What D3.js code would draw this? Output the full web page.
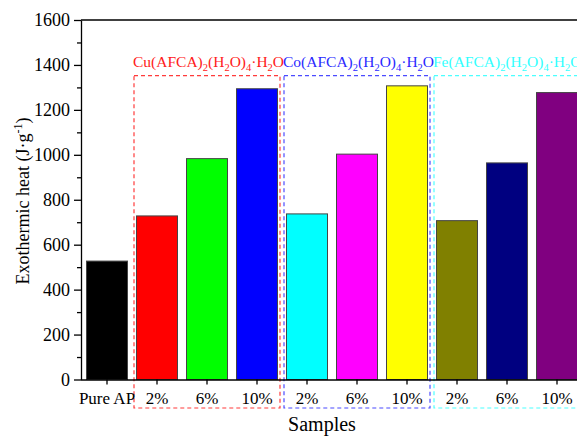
<!DOCTYPE html>
<html><head><meta charset="utf-8">
<script src="https://cdn.jsdelivr.net/npm/d3@7/dist/d3.min.js"></script>
<style>
body{margin:0;background:#fff;}
svg{display:block;font-family:"Liberation Serif","Times New Roman",serif;}
</style></head>
<body><svg id="c" width="577" height="436"></svg>
<script>
const categories = ["Pure AP","Cu 2%","Cu 6%","Cu 10%","Co 2%","Co 6%","Co 10%","Fe 2%","Fe 6%","Fe 10%"];
const tickLabels = ["Pure AP","2%","6%","10%","2%","6%","10%","2%","6%","10%"];
const values = [527, 728, 983, 1294, 737, 1003, 1307, 707, 964, 1277];
const barColors = ["#000000","#FF0000","#00FF00","#0000FF","#00FFFF","#FF00FF","#FFFF00","#808000","#000080","#800080"];
const yTicks = [0,200,400,600,800,1000,1200,1400,1600];
const yMinorTicks = [100,300,500,700,900,1100,1300,1500];
const groups = [
  {metal:"Cu", first:"Cu 2%", last:"Cu 10%", color:"#FF3B3B", textColor:"#FF2020"},
  {metal:"Co", first:"Co 2%", last:"Co 10%", color:"#4B4BFF", textColor:"#2A2AFF"},
  {metal:"Fe", first:"Fe 2%", last:"Fe 10%", color:"#4BFFFF", textColor:"#33FFFF"}
];

(function(){
const svg = d3.select("#c");
const mLeft = 81, mTop = 20, mBottom = 379.5, mRight = 582;
const x = d3.scaleBand().domain(categories).range([82, 582]).paddingInner(0.18).paddingOuter(0.09);
const y = d3.scaleLinear().domain([0,1600]).range([mBottom, mTop]);

// frame lines
svg.append("line").attr("x1",mLeft).attr("x2",mRight).attr("y1",mTop).attr("y2",mTop)
  .attr("stroke","#000").attr("stroke-width",1.3);
svg.append("line").attr("x1",mRight).attr("x2",mRight).attr("y1",mTop).attr("y2",mBottom)
  .attr("stroke","#000").attr("stroke-width",1.3);

// bars
svg.append("g").selectAll("rect").data(values).join("rect")
  .attr("x",(d,i)=>x(categories[i]))
  .attr("y",d=>y(d))
  .attr("width",x.bandwidth())
  .attr("height",d=>y(0)-y(d))
  .attr("fill",(d,i)=>barColors[i])
  .attr("stroke","#444").attr("stroke-width",1);

// dashed boxes
const boxTop = y(1352), boxBottom = 408;
groups.forEach(g=>{
  const x0 = x(g.first) - 2.5, x1 = x(g.last) + x.bandwidth() + 2.5;
  svg.append("rect").attr("x",x0).attr("y",boxTop).attr("width",x1-x0).attr("height",boxBottom-boxTop)
    .attr("fill","none").attr("stroke",g.color).attr("stroke-width",1.2).attr("stroke-dasharray","4,3");
  const t = svg.append("text").attr("x",x0-1).attr("y",boxTop-9).attr("fill",g.textColor).attr("font-size",15.5);
  const parts = [[g.metal+"(AFCA)",0],["2",1],["(H",0],["2",1],["O)",0],["4",1],["·H",0],["2",1],["O",0]];
  let sub = false;
  parts.forEach(([s,isSub])=>{
    const ts = t.append("tspan").text(s);
    if(isSub){ ts.attr("font-size",10.5).attr("dy", sub?0:4); sub = true; }
    else { ts.attr("dy", sub?-4:0); sub = false; }
  });
});

// y axis
const yAxis = svg.append("g").attr("transform",`translate(${mLeft},0)`)
  .call(d3.axisLeft(y).tickValues(yTicks).tickFormat(d3.format("d")).tickSize(7).tickPadding(4).tickSizeOuter(0));
yAxis.attr("font-size",18).attr("font-family","Liberation Serif");
yAxis.selectAll("text").attr("fill","#000");
yAxis.selectAll("line").attr("stroke-width",1.3);
yAxis.select(".domain").attr("stroke-width",1.3);
svg.append("g").attr("transform",`translate(${mLeft},0)`)
  .call(d3.axisLeft(y).tickValues(yMinorTicks).tickSize(4).tickFormat("").tickSizeOuter(0))
  .call(g=>g.select(".domain").remove())
  .selectAll("line").attr("stroke-width",1.3);

// x axis
const xAxis = svg.append("g").attr("transform",`translate(0,${mBottom})`)
  .call(d3.axisBottom(x).tickSize(5).tickSizeOuter(0).tickFormat((d,i)=>tickLabels[i]));
xAxis.attr("font-size",17).attr("font-family","Liberation Serif");
xAxis.select(".domain").attr("d",`M${mLeft},0.5H${mRight}`).attr("stroke-width",1.3);
xAxis.selectAll("line").attr("stroke-width",1.3);
xAxis.selectAll("text").attr("fill","#000").attr("y",24.5).attr("dy",0);

// axis titles
svg.append("text").attr("x",322).attr("y",431).attr("text-anchor","middle").attr("font-size",20).text("Samples");
const yt = svg.append("text").attr("transform","translate(29,201) rotate(-90)").attr("text-anchor","middle").attr("font-size",18);
yt.append("tspan").text("Exothermic heat (J·g");
yt.append("tspan").text("-1").attr("font-size",12).attr("dy",-7);
yt.append("tspan").text(")").attr("dy",7);
})();
</script></body></html>
